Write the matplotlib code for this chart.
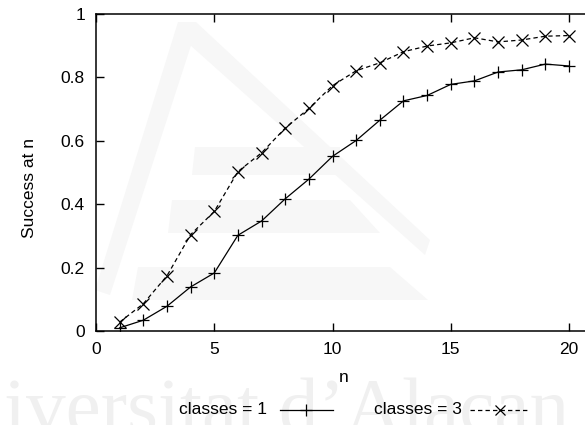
import matplotlib
matplotlib.use("Agg")
import matplotlib.pyplot as plt
from matplotlib.lines import Line2D
from matplotlib.patches import Polygon

plt.rcParams['font.family'] = ['Liberation Sans', 'DejaVu Sans']

n = list(range(1, 21))
classes1 = [0.010, 0.034, 0.078, 0.139, 0.183, 0.302, 0.347, 0.417, 0.479, 0.551,
            0.601, 0.665, 0.726, 0.743, 0.778, 0.789, 0.817, 0.824, 0.842, 0.836]
classes3 = [0.028, 0.086, 0.174, 0.304, 0.377, 0.503, 0.562, 0.640, 0.702, 0.774,
            0.821, 0.846, 0.881, 0.899, 0.909, 0.925, 0.912, 0.918, 0.930, 0.932]
xticks = [0, 5, 10, 15, 20]
yticks = [0, 0.2, 0.4, 0.6, 0.8, 1.0]
yticklabels = ['0', '0.2', '0.4', '0.6', '0.8', '1']
labels = ['classes = 1', 'classes = 3']

W, H = 585, 425
fig = plt.figure(figsize=(W / 100, H / 100), dpi=100)

# background (watermark) axes in pixel coordinates
bg = fig.add_axes([0, 0, 1, 1], zorder=0)
bg.set_xlim(0, W)
bg.set_ylim(H, 0)
bg.axis('off')
wm = '#f7f7f7'
# faint logo shapes
shapes = [
    [(178, 22), (196, 22), (430, 240), (425, 255), (190, 45)],
    [(178, 22), (196, 30), (110, 295), (95, 290)],
    [(195, 147), (340, 147), (340, 175), (192, 175)],
    [(172, 200), (350, 200), (380, 233), (168, 233)],
    [(138, 267), (390, 267), (428, 300), (132, 300)],
]
for pts in shapes:
    bg.add_patch(Polygon(pts, closed=True, color=wm, lw=0, zorder=0))
bg.text(4, 432, 'iversitat d\u2019Alacan', fontsize=57, family='Liberation Serif',
        color='#f0f0f0', ha='left', va='baseline', zorder=0)

# legend drawn in pixel coordinates
ly = 410
bg.text(267, ly, labels[0], fontsize=12.5, ha='right', va='center', color='black', zorder=5)
bg.add_line(Line2D([280, 333], [ly, ly], color='black', lw=0.9, zorder=5))
bg.add_line(Line2D([306], [ly], color='black', marker='+', ms=8, mew=0.9, ls='none', zorder=5))
bg.text(462, ly, labels[1], fontsize=12.5, ha='right', va='center', color='black', zorder=5)
bg.add_line(Line2D([470, 530], [ly, ly], color='black', lw=0.9, ls=(0, (3.5, 2.5)), zorder=5))
bg.add_line(Line2D([500], [ly], color='black', marker='x', ms=7, mew=0.9, ls='none', zorder=5))

# main axes
left = 96 / W
right = 592.7 / W
bottom = (H - 331) / H
top = (H - 14) / H
ax = fig.add_axes([left, bottom, right - left, top - bottom], zorder=1)
ax.patch.set_alpha(0)

ax.plot(n, classes1, color='black', lw=0.9, marker='+', ms=9, mew=0.9)
ax.plot(n, classes3, color='black', lw=0.9, ls=(0, (3.5, 2.5)), marker='x', ms=8, mew=0.9)

ax.set_xlim(0, 21)
ax.set_ylim(0, 1)
ax.set_xticks(xticks)
ax.set_yticks(yticks)
ax.set_yticklabels(yticklabels)
ax.tick_params(direction='in', length=6, width=1, top=True, right=True,
               labelsize=12.5, pad=8)
for s in ax.spines.values():
    s.set_linewidth(1.1)

fig.text(344 / W, (H - 378) / H, 'n', fontsize=12.5, ha='center', va='center')
fig.text(30 / W, (H - 188) / H, 'Success at n', fontsize=12.5, ha='center', va='center',
         rotation=90)

fig.savefig('out.png', dpi=100)
